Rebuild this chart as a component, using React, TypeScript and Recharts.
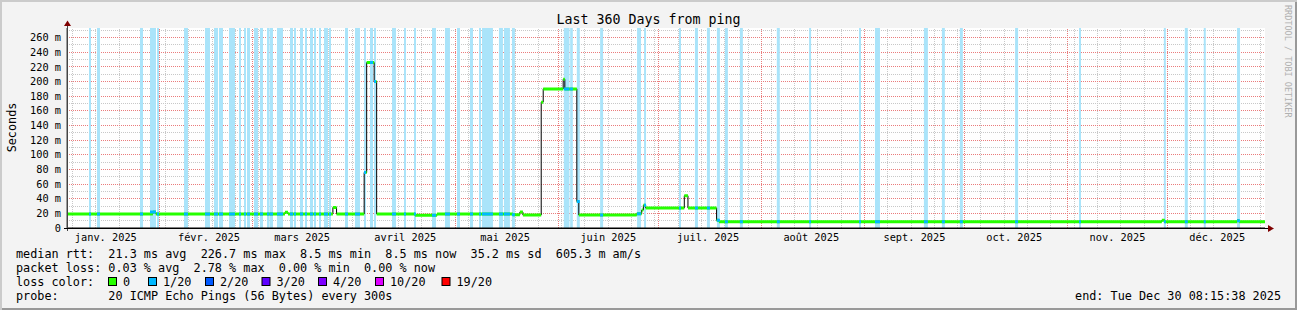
import React from 'react';
import { ComposedChart, Line, XAxis, YAxis, ReferenceLine, ReferenceArea } from 'recharts';

// time axis is "days since start" (start = end - 360 days)
const START = Date.UTC(2025, 0, 4, 8, 15, 38);
const DAY = 86400000;
const dayOf = (m: number, d: number) => (Date.UTC(2025, m, d) - START) / DAY;

const monthLabels = [
  'janv. 2025', 'févr. 2025', 'mars 2025', 'avril 2025', 'mai 2025', 'juin 2025',
  'juil. 2025', 'août 2025', 'sept. 2025', 'oct. 2025', 'nov. 2025', 'déc. 2025',
];
const monthStarts = monthLabels.map((_, i) => dayOf(i, 1));
const labelTicks = monthStarts.map(d => d + 15);
const weekStarts: number[] = [];
for (let d = dayOf(0, 6); d < 360; d += 7) weekStarts.push(d);

const yTicks = [0, 20, 40, 60, 80, 100, 120, 140, 160, 180, 200, 220, 240, 260];
const yMinor = [10, 30, 50, 70, 90, 110, 130, 150, 170, 190, 210, 230, 250, 270];

// median rtt (ms), step changes: value holds from rttDays[i] until rttDays[i+1]
const rttDays = [
  0, 25.8, 26.7, 65.5, 66.4, 79.9, 81.0, 89.3, 90.05, 92.3, 93.05, 104.6, 111.2,
  134.0, 136.1, 137.0, 142.5, 143.1, 149.1, 149.6, 153.2, 153.8, 171.2, 172.7,
  173.2, 173.9, 185.5, 186.6, 195.2, 195.9, 329.0, 329.9, 351.6, 352.2, 360,
];
const rttMs = [
  19.1, 21.8, 19.1, 21.5, 19.1, 28, 19.1, 75.8, 225.8, 199.9, 19.1, 17.3, 19.1,
  18.2, 21.8, 17.7, 171.8, 189.9, 203, 189.9, 36.3, 17.7, 19.5, 24.5,
  31, 27.3, 44, 27.3, 10.5, 8.7, 10.5, 8.7, 10, 8.7, 8.7,
];

// periods with 1/20 packet loss (days)
const lossStart = [
  6.61, 9.01, 21.93, 24.94, 27.04, 35.16, 41.47, 44.17, 45.67, 48.68, 51.68, 53.19,
  54.09, 56.19, 57.99, 60.1, 61.0, 63.1, 67.01, 68.21, 70.01, 71.51, 73.02, 74.22,
  75.72, 77.22, 78.73, 83.53, 86.54, 89.24, 91.05, 92.25, 97.66, 101.26, 104.27,
  109.68, 113.58, 117.19, 121.09, 123.8, 124.7, 129.8, 131.3, 133.7, 149.3, 151.2,
  153.2, 160.2, 171.3, 173.4, 183.9, 188.7, 192.3, 195.3, 197.7, 202.2, 213.3,
  223.0, 238.0, 242.8, 257.5, 262.9, 268.3, 284.9, 304.1, 329.6, 335.9, 341.6, 351.6,
];
const lossEnd = [
  7.21, 9.92, 22.84, 26.74, 27.64, 36.36, 42.97, 45.37, 46.88, 50.48, 52.28, 53.79,
  54.99, 57.39, 58.89, 60.88, 61.9, 64.9, 67.91, 68.81, 70.91, 72.12, 73.92, 74.82,
  76.32, 78.43, 79.33, 84.44, 88.04, 89.84, 91.95, 92.85, 98.86, 101.86, 104.87,
  110.88, 115.08, 118.09, 122.0, 124.4, 128.0, 131.0, 133.1, 134.6, 151.0, 152.0,
  154.1, 161.1, 172.5, 174.0, 184.5, 189.6, 193.2, 196.2, 198.6, 203.1, 214.2,
  223.6, 238.6, 244.3, 258.7, 263.8, 269.2, 285.8, 304.7, 330.2, 336.8, 342.2, 352.5,
];

const lossColors = ['#26ff00', '#00b8ff', '#0059ff', '#5e00ff', '#7e00ff', '#dd00ff', '#ff0000'];
const lossNames = ['0', '1/20', '2/20', '3/20', '4/20', '10/20', '19/20'];

const FONT = '"DejaVu Sans Mono", monospace';
const W = 1297;
const H = 310;
const X_DOMAIN: [number, number] = [0, 360];
const Y_DOMAIN: [number, number] = [0, 273];

const medianData = rttDays.map((t, i) => ({ t, v: rttMs[i] }));

const valueAt = (t: number) => {
  let v = rttMs[0];
  for (let i = 0; i < rttDays.length; i++) if (rttDays[i] <= t) v = rttMs[i];
  return v;
};

// horizontal pieces only, broken with nulls
const greenData: { t: number; g: number | null }[] = [];
for (let i = 0; i < rttDays.length - 1; i++) {
  greenData.push({ t: rttDays[i], g: rttMs[i] });
  greenData.push({ t: rttDays[i + 1], g: rttMs[i] });
  greenData.push({ t: rttDays[i + 1], g: null });
}
const blueData: { t: number; b: number | null }[] = [];
lossStart.forEach((s, i) => {
  const v = valueAt((s + lossEnd[i]) / 2);
  blueData.push({ t: s, b: v }, { t: lossEnd[i], b: v }, { t: lossEnd[i], b: null });
});

const YTick = (props: any) => (
  <text x={61} y={props.y} dy={3.7} textAnchor="end" fontFamily={FONT} fontSize={10.3} fill="#000">
    {props.payload.value === 0 ? '0' : `${props.payload.value} m`}
  </text>
);

const XTick = (props: any) => {
  const i = labelTicks.indexOf(props.payload.value);
  return (
    <text x={props.x} y={241} textAnchor="middle" fontFamily={FONT} fontSize={10.3} fill="#000">
      {monthLabels[i]}
    </text>
  );
};

const legendRows = [
  'median rtt:  21.3 ms avg  226.7 ms max  8.5 ms min  8.5 ms now  35.2 ms sd  605.3 m am/s',
  'packet loss: 0.03 % avg  2.78 % max  0.00 % min  0.00 % now',
  'loss color:',
  'probe:       20 ICMP Echo Pings (56 Bytes) every 300s',
];
const swatchX = [108.5, 148.5, 205.5, 262, 318.5, 375.5, 442];

const css = `
body{margin:0}
.recharts-reference-line line, .recharts-reference-area rect { shape-rendering: crispEdges; }
`;

const layer: React.CSSProperties = { position: 'absolute', left: 0, top: 0 };

// grid layer: same plot box as the main chart, drawn underneath it
const GridLayer = ({ stroke, h, v }: { stroke: string; h: number[]; v: number[] }) => (
  <div style={layer}>
    <ComposedChart width={W} height={H} margin={{ top: 28, right: 32, bottom: 82, left: 67 }} data={medianData}>
      <XAxis type="number" dataKey="t" domain={X_DOMAIN} allowDataOverflow hide />
      <YAxis type="number" domain={Y_DOMAIN} allowDataOverflow hide />
      {h.map(y => (
        <ReferenceLine key={'h' + y} y={y} stroke={stroke} strokeOpacity={1} strokeDasharray="1 1" />
      ))}
      {v.map(x => (
        <ReferenceLine key={'v' + x} x={x} stroke={stroke} strokeOpacity={1} strokeDasharray="1 1" />
      ))}
    </ComposedChart>
  </div>
);

export default function App() {
  return (
    <div
      style={{
        position: 'relative',
        width: W,
        height: H,
        background: '#f3f3f3',
        boxShadow: 'inset 2px 2px 0 #cbcbcb, inset -2px -2px 0 #999999',
      }}
    >
      <style>{css}</style>
      {/* plot canvas */}
      <div style={{ position: 'absolute', left: 67, top: 28, width: 1198, height: 200, background: '#fff' }} />
      <GridLayer stroke="#c8c8c8" h={yMinor} v={weekStarts} />
      <GridLayer stroke="#ea7c7c" h={yTicks.slice(1)} v={monthStarts.filter(d => d > 0)} />
      <div style={layer}>
        <ComposedChart width={W} height={H} margin={{ top: 28, right: 32, bottom: 0, left: 0 }}>
          <XAxis
            type="number"
            dataKey="t"
            domain={X_DOMAIN}
            ticks={labelTicks}
            interval={0}
            allowDataOverflow
            height={82}
            tickLine={false}
            axisLine={{ stroke: '#000' }}
            tick={<XTick />}
          />
          <YAxis
            type="number"
            domain={Y_DOMAIN}
            ticks={yTicks}
            interval={0}
            allowDataOverflow
            width={67}
            tickLine={false}
            axisLine={{ stroke: '#444' }}
            tick={<YTick />}
          />
          {lossStart.map((s, i) => (
            <ReferenceArea key={i} x1={s} x2={lossEnd[i]} fill="#aae4fa" fillOpacity={1} stroke="none" />
          ))}
          <Line
            data={medianData}
            dataKey="v"
            type="stepAfter"
            stroke="#000"
            strokeWidth={1}
            dot={false}
            activeDot={false}
            isAnimationActive={false}
          />
          <Line
            data={greenData}
            dataKey="g"
            type="linear"
            stroke={lossColors[0]}
            strokeWidth={3}
            dot={false}
            activeDot={false}
            connectNulls={false}
            isAnimationActive={false}
          />
          <Line
            data={blueData}
            dataKey="b"
            type="linear"
            stroke={lossColors[1]}
            strokeWidth={3}
            dot={false}
            activeDot={false}
            connectNulls={false}
            isAnimationActive={false}
          />
        </ComposedChart>
      </div>
      <svg width={W} height={H} style={{ ...layer, pointerEvents: 'none' }} fontFamily={FONT}>
        <line x1={67.5} y1={231} x2={67.5} y2={24} stroke="#444" />
        <line x1={64} y1={228.5} x2={1270} y2={228.5} stroke="#000" />
        <polygon points="64,26 71,26 67.5,20.5" fill="#7f0000" />
        <polygon points="1268,225 1268,232 1274,228.5" fill="#7f0000" />
        <text x={648.5} y={24} textAnchor="middle" fontSize={13.3} fill="#000">
          Last 360 Days from ping
        </text>
        <text transform="translate(15.5,127.5) rotate(-90)" textAnchor="middle" fontSize={11.8} fill="#000">
          Seconds
        </text>
        <text transform="translate(1285,5) rotate(90)" fontSize={8.5} fill="#b0b0b0">
          RRDTOOL / TOBI OETIKER
        </text>
        {legendRows.map((r, i) => (
          <text key={i} x={16} y={258 + i * 14} fontSize={11.8} fill="#000" xmlSpace="preserve" style={{ whiteSpace: 'pre' }}>
            {r}
          </text>
        ))}
        {lossNames.map((n, i) => (
          <g key={n}>
            <rect x={swatchX[i]} y={277.5} width={8} height={8} fill={lossColors[i]} stroke="#000" />
            <text x={swatchX[i] + 14.5} y={286} fontSize={11.8} fill="#000">
              {n}
            </text>
          </g>
        ))}
        <text x={1281} y={300} textAnchor="end" fontSize={11.8} fill="#000">
          end: Tue Dec 30 08:15:38 2025
        </text>
      </svg>
    </div>
  );
}
